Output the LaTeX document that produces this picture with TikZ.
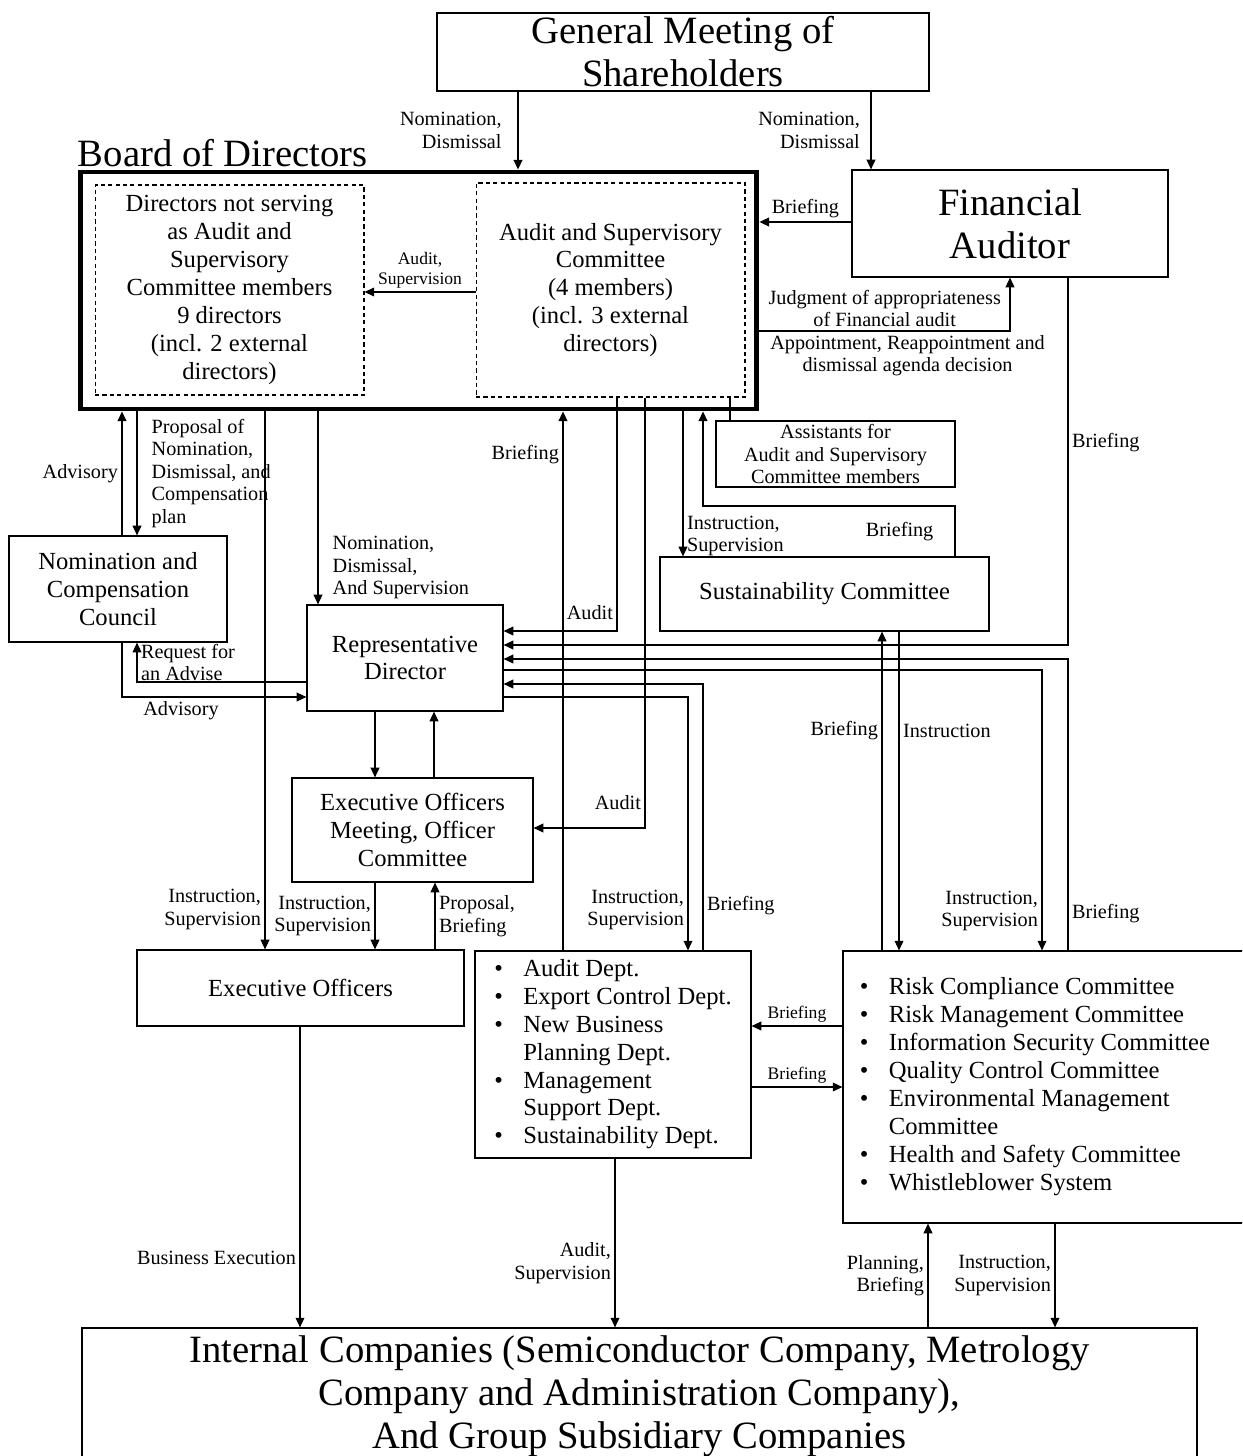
\documentclass[tikz,border=0pt]{standalone}
\usepackage{fontspec}
\setmainfont{Liberation Serif}
\usepackage{tikz}
\usetikzlibrary{arrows.meta, positioning}

\newcommand{\bigtxt}{\fontsize{22}{24.4}\selectfont}
\newcommand{\boxtxt}{\fontsize{14}{15.9}\selectfont}
\newcommand{\labtxt}{\fontsize{11.5}{12.8}\selectfont}
\newcommand{\smalltxt}{\fontsize{10}{11.3}\selectfont}

\begin{document}
\begin{tikzpicture}[
    x=0.02cm, y=-0.02cm,
    orgbox/.style={draw, line width=0.7pt, align=center, inner sep=0pt,
                   font=\boxtxt},
    bigbox/.style={orgbox, font=\bigtxt},
    dashbox/.style={draw, dash pattern=on 2.4pt off 1.8pt, line width=0.6pt,
                    align=center, inner sep=0pt, font=\boxtxt},
    arrow/.style={-{Triangle[length=5.5pt, width=5pt]}, line width=0.7pt},
    link/.style={line width=0.7pt},
    lbl/.style={font=\labtxt, inner sep=2pt, align=center},
    lbll/.style={lbl, left, align=right},
    lblr/.style={lbl, right, align=left},
  ]
    \useasboundingbox (0,0) rectangle (1242,1456);
    \clip (0,0) rectangle (1242,1456);

    % Shareholders and board
    \node[bigbox, minimum width=9.84cm, minimum height=1.56cm] (gms) at (683,52)
      {General Meeting of\\Shareholders};
    \node[draw, line width=2.8pt, minimum width=13.54cm, minimum height=4.74cm]
      (board) at (418.5,290.5) {};
    \node[font=\bigtxt, anchor=base west, inner sep=0pt] (boardname)
      at ([yshift=2pt]board.north west) {Board of Directors};
    \node[dashbox, minimum width=5.38cm, minimum height=4.2cm] (dirs) at (229.5,290)
      {Directors not serving\\as Audit and\\Supervisory\\Committee members\\
       9 directors\\(incl. 2 external\\directors)};
    \node[dashbox, minimum width=5.38cm, minimum height=4.28cm] (asc) at (610.5,290)
      {Audit and Supervisory\\Committee\\(4 members)\\(incl. 3 external\\directors)};
    \node[bigbox, minimum width=6.32cm, minimum height=2.14cm] (fa) at (1010,223.5)
      {Financial\\Auditor};
    \node[orgbox, font=\labtxt, minimum width=4.78cm, minimum height=1.32cm]
      (assist) at (835.5,454)
      {Assistants for\\Audit and Supervisory\\Committee members};

    % Execution side
    \node[orgbox, minimum width=4.36cm, minimum height=2.12cm] (ncc) at (118,589)
      {Nomination and\\Compensation\\Council};
    \node[orgbox, minimum width=3.92cm, minimum height=2.12cm] (rep) at (405,658)
      {Representative\\Director};
    \node[orgbox, minimum width=6.58cm, minimum height=1.48cm] (sust) at (824.5,594)
      {Sustainability Committee};
    \node[orgbox, minimum width=4.82cm, minimum height=2.08cm] (eom) at (412.5,830)
      {Executive Officers\\Meeting, Officer\\Committee};
    \node[orgbox, minimum width=6.54cm, minimum height=1.52cm] (eo) at (300.5,988)
      {Executive Officers};
    \node[orgbox, minimum width=5.52cm, minimum height=4.14cm] (dept) at (613,1054.5) {
      \begin{tabular}{@{}p{0.58cm}@{}l@{}}
        \textbullet & Audit Dept.\\
        \textbullet & Export Control Dept.\\
        \textbullet & New Business\\
                    & Planning Dept.\\
        \textbullet & Management\\
                    & Support Dept.\\
        \textbullet & Sustainability Dept.
      \end{tabular}};
    \node[orgbox, minimum width=8.14cm, minimum height=5.44cm] (cmte) at (1046.5,1087) {
      \begin{tabular}{@{}p{0.58cm}@{}l@{\hspace{0.46cm}}}
        \textbullet & Risk Compliance Committee\\
        \textbullet & Risk Management Committee\\
        \textbullet & Information Security Committee\\
        \textbullet & Quality Control Committee\\
        \textbullet & Environmental Management\\
                    & Committee\\
        \textbullet & Health and Safety Committee\\
        \textbullet & Whistleblower System
      \end{tabular}};
    \node[orgbox, font=\fontsize{22}{24.4}\selectfont, minimum width=22.3cm,
          minimum height=2.72cm] (intl) at (639.5,1396)
      {Internal Companies (Semiconductor Company, Metrology\\
       Company and Administration Company),\\And Group Subsidiary Companies};

    % Shareholders arrows
    \draw[arrow] (gms.south -| 518,0) -- (board.north -| 518,0)
      node[lbll, midway, xshift=-7pt] {Nomination,\\Dismissal};
    \draw[arrow] (gms.south -| 871,0) -- (fa.north -| 871,0)
      node[lbll, midway, xshift=-4pt] {Nomination,\\Dismissal};

    % Financial auditor
    \draw[arrow] (fa.west |- 0,222) -- (board.east |- 0,222)
      node[lbl, midway, above] {Briefing};
    \draw[arrow] (board.east |- 0,331) -| (fa.south -| 1010,0)
      node[lbl, pos=0.25, above] {Judgment of appropriateness\\of Financial audit}
      node[lbl, pos=0.25, below, xshift=13pt] {Appointment, Reappointment and\\dismissal agenda decision};
    \draw[arrow] (fa.south -| 1068,0) |- (rep.east |- 0,645)
      node[lblr, pos=0.225] {Briefing};

    % Inside the board
    \draw[arrow] (asc.west |- 0,292) -- (dirs.east |- 0,292)
      node[lbl, font=\smalltxt, midway, above] {Audit,\\Supervision};
    \draw[link] (asc.south -| 730,0) -- (assist.north -| 730,0);

    % Board and council
    \draw[arrow] (ncc.north -| 122,0) -- (board.south -| 122,0)
      node[lbll, midway] {Advisory};
    \draw[arrow] (board.south -| 137,0) -- (ncc.north -| 137,0)
      node[lblr, midway, xshift=6pt]
      {Proposal of\\Nomination,\\Dismissal, and\\Compensation\\plan};
    \draw[arrow] (rep.west |- 0,682) -| (ncc.south -| 137,0)
      node[lblr, pos=0.75] {Request for\\an Advise};
    \draw[arrow] (ncc.south -| 122,0) |- (rep.west |- 0,697)
      node[lbl, below, pos=0.66] {Advisory};

    % Board downwards
    \draw[arrow] (board.south -| 265,0) -- (eo.north -| 265,0)
      node[lbll, pos=0.926] {Instruction,\\Supervision};
    \draw[arrow] (board.south -| 318,0) -- (rep.north -| 318,0)
      node[lblr, pos=0.81, xshift=6pt] {Nomination,\\Dismissal,\\And Supervision};
    \draw[arrow] (dept.north -| 563,0) -- (board.south -| 563,0)
      node[lbll, pos=0.92] {Briefing};
    \draw[arrow] (asc.south -| 617,0) |- (rep.east |- 0,631)
      node[lbll, pos=0.46] {Audit};
    \draw[arrow] (asc.south -| 645,0) |- (eom.east |- 0,828)
      node[lbll, pos=0.47] {Audit};
    \draw[arrow] (board.south -| 683,0) -- (sust.north -| 683,0)
      node[lblr, pos=0.86] {Instruction,\\Supervision};
    \draw[arrow] (sust.north -| 955,0) -- node[lbll, xshift=-10pt] {Briefing}
      (955,506) -| (board.south -| 703,0);

    % Representative director and officers
    \draw[arrow] (rep.south -| 375,0) -- (eom.north -| 375,0);
    \draw[arrow] (eom.north -| 434,0) -- (rep.south -| 434,0);
    \draw[arrow] (eom.south -| 375,0) -- (eo.north -| 375,0)
      node[lbll, midway] {Instruction,\\Supervision};
    \draw[arrow] (eo.north -| 435,0) -- (eom.south -| 435,0)
      node[lblr, midway] {Proposal,\\Briefing};

    % Committees and departments
    \draw[arrow] (cmte.north -| 882,0) -- (sust.south -| 882,0)
      node[lbll, pos=0.69] {Briefing};
    \draw[arrow] (sust.south -| 899,0) -- (cmte.north -| 899,0)
      node[lblr, pos=0.31] {Instruction};
    \draw[arrow] (cmte.north -| 1068,0) |- (rep.east |- 0,659)
      node[lblr, pos=0.063] {Briefing};
    \draw[arrow] (rep.east |- 0,670) -| (cmte.north -| 1042,0)
      node[lbll, pos=0.93] {Instruction,\\Supervision};
    \draw[arrow] (dept.north -| 703,0) |- (rep.east |- 0,684)
      node[lblr, pos=0.084] {Briefing};
    \draw[arrow] (rep.east |- 0,697) -| (dept.north -| 688,0)
      node[lbll, pos=0.92] {Instruction,\\Supervision};
    \draw[arrow] (cmte.west |- 0,1026) -- (dept.east |- 0,1026)
      node[lbl, font=\smalltxt, midway, above] {Briefing};
    \draw[arrow] (dept.east |- 0,1087) -- (cmte.west |- 0,1087)
      node[lbl, font=\smalltxt, midway, above] {Briefing};

    % Internal companies
    \draw[arrow] (eo.south -| 300,0) -- (intl.north -| 300,0)
      node[lbll, pos=0.77] {Business Execution};
    \draw[arrow] (dept.south -| 615,0) -- (intl.north -| 615,0)
      node[lbll, pos=0.62] {Audit,\\Supervision};
    \draw[arrow] (intl.north -| 928,0) -- (cmte.south -| 928,0)
      node[lbll, midway] {Planning,\\Briefing};
    \draw[arrow] (cmte.south -| 1055,0) -- (intl.north -| 1055,0)
      node[lbll, midway] {Instruction,\\Supervision};
\end{tikzpicture}
\end{document}
